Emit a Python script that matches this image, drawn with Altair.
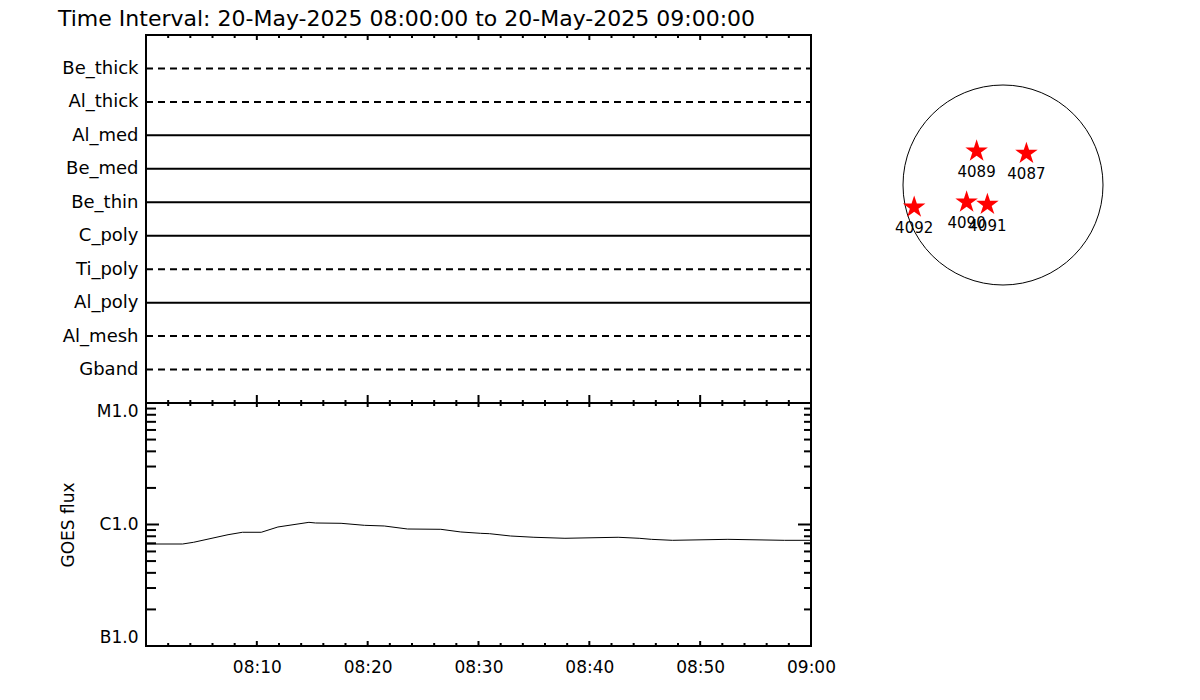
import math
import altair as alt
import pandas as pd

# ---------------- data ----------------
interval_start = "20-May-2025 08:00:00"
interval_end = "20-May-2025 09:00:00"

filters = ["Be_thick", "Al_thick", "Al_med", "Be_med", "Be_thin",
           "C_poly", "Ti_poly", "Al_poly", "Al_mesh", "Gband"]
observed = ["no", "no", "yes", "yes", "yes", "yes", "no", "yes", "no", "no"]

goes_time = ["08:00:00", "08:03:18", "08:04:18", "08:07:24", "08:08:42", "08:10:24",
             "08:11:54", "08:14:42", "08:15:18", "08:17:36", "08:19:42", "08:21:30",
             "08:23:36", "08:26:36", "08:28:24", "08:30:12", "08:31:00", "08:32:54",
             "08:35:00", "08:37:48", "08:42:36", "08:44:30", "08:45:36", "08:47:30",
             "08:52:30", "08:57:36", "09:00:00"]
goes_flux = [6.91e-7, 6.91e-7, 7.14e-7, 8.24e-7, 8.63e-7, 8.63e-7,
             9.54e-7, 1.042e-6, 1.029e-6, 1.023e-6, 9.85e-7, 9.72e-7,
             9.18e-7, 9.13e-7, 8.68e-7, 8.46e-7, 8.40e-7, 8.04e-7,
             7.85e-7, 7.70e-7, 7.85e-7, 7.70e-7, 7.55e-7, 7.41e-7,
             7.55e-7, 7.41e-7, 7.41e-7]

ar_numbers = ["4089", "4087", "4092", "4090", "4091"]
ar_x_arcsec = [-250, 222, -842, -345, -148]
ar_y_arcsec = [321, 299, -211, -163, -185]
sun_radius_arcsec = 948

flux_tick_values = [1e-7, 1e-6, 1e-5]
flux_tick_labels = ["B1.0", "C1.0", "M1.0"]
flux_minor_values = [m * 10.0 ** e for e in (-7, -6) for m in range(2, 10)]

major_minutes = [10, 20, 30, 40, 50]
minor_minutes = [m for m in range(2, 60, 2) if m % 10 != 0]
label_minutes = [10, 20, 30, 40, 50, 60]

# ---------------- tables ----------------
t0 = pd.to_datetime(interval_start, format="%d-%b-%Y %H:%M:%S")
t1 = pd.to_datetime(interval_end, format="%d-%b-%Y %H:%M:%S")
span_min = (t1 - t0).total_seconds() / 60.0
day = t0.strftime("%Y-%m-%d")
goes_df = pd.DataFrame({
    "minute": [(pd.Timestamp(f"{day} {t}") - t0).total_seconds() / 60.0 for t in goes_time],
    "flux": goes_flux,
})
filt_df = pd.DataFrame({"filter": filters, "observed": observed,
                        "start": 0.0, "end": span_min})
ar_df = pd.DataFrame({"ar": ar_numbers, "x": ar_x_arcsec, "y": ar_y_arcsec})
disk_df = pd.DataFrame({"x": [0], "y": [0]})

# ---------------- geometry / styles ----------------
W = 665
H_TOP = 368
H_BOT = 243
SUN_W = 300
SUN_RPX = 100
FONT = "DejaVu Sans"

xs = alt.Scale(domain=[0, span_min], nice=False, zero=False)
ys_flux = alt.Scale(type="log", domain=[1e-7, 1e-5], nice=False)
ys_filt = alt.Scale(type="point", domain=filters, padding=1)
half = SUN_W / 2
sun_xs = alt.Scale(domain=[-sun_radius_arcsec, sun_radius_arcsec],
                   range=[half - SUN_RPX, half + SUN_RPX], nice=False, zero=False)
sun_ys = alt.Scale(domain=[-sun_radius_arcsec, sun_radius_arcsec],
                   range=[half + SUN_RPX, half - SUN_RPX], nice=False, zero=False)

# five-pointed star symbol (unit box)
pts = []
for k in range(10):
    r = 1.0 if k % 2 == 0 else 0.382
    a = math.radians(-90 + 36 * k)
    pts.append(f"{r * math.cos(a):.4f},{r * math.sin(a):.4f}")
STAR_PATH = "M" + " L".join(pts) + " Z"

flux_expr = " : ".join(
    f"datum.value < {v * 3:g} ? '{l}'" for v, l in zip(flux_tick_values[:-1], flux_tick_labels[:-1])
) + f" : '{flux_tick_labels[-1]}'"
time_label_expr = "timeFormat(datetime(2025, 4, 20, 8, datum.value), '%H:%M')"

X_AXIS_BOT = alt.Axis(orient="bottom", ticks=False, domain=False, values=label_minutes,
                      labelExpr=time_label_expr, labelPadding=13, labelFlush=False,
                      title=None, grid=False)
Y_AXIS_BOT = alt.Axis(orient="left", ticks=False, domain=False, values=flux_tick_values,
                      labelExpr=flux_expr, labelPadding=8, labelFlush=True,
                      title="GOES flux", titleX=-78, titleY=H_BOT / 2, titleAlign="center",
                      titleBaseline="middle", titleAngle=-90, grid=False)


def xticks(values, y0, y1, axis=None):
    return alt.Chart(pd.DataFrame({"minute": values})).mark_rule(
        color="black", strokeWidth=2).encode(
        x=alt.X("minute:Q", scale=xs, axis=axis),
        y=alt.value(y0), y2=alt.value(y1))


def yticks(values, x0, x1, axis=None):
    return alt.Chart(pd.DataFrame({"flux": values})).mark_rule(
        color="black", strokeWidth=2).encode(
        y=alt.Y("flux:Q", scale=ys_flux, axis=axis),
        x=alt.value(x0), x2=alt.value(x1))


# ---------------- top panel: filter timeline ----------------
rules = alt.Chart(filt_df).mark_rule(strokeWidth=2, color="black").encode(
    x=alt.X("start:Q", scale=xs, axis=None),
    x2="end:Q",
    y=alt.Y("filter:N", scale=ys_filt,
            axis=alt.Axis(orient="left", ticks=False, domain=False, labelPadding=8,
                          labelFontSize=18, title=None, grid=False)),
    strokeDash=alt.StrokeDash("observed:N",
                              scale=alt.Scale(domain=["yes", "no"], range=[[1, 0], [7, 5]]),
                              legend=None),
)
top = alt.layer(
    rules,
    xticks(major_minutes, 0, 5), xticks(minor_minutes, 0, 3),
    xticks(major_minutes, H_TOP - 8, H_TOP), xticks(minor_minutes, H_TOP - 3, H_TOP),
).properties(width=W, height=H_TOP)

# ---------------- bottom panel: GOES flux ----------------
goes_line = alt.Chart(goes_df).mark_line(color="black", strokeWidth=1).encode(
    x=alt.X("minute:Q", scale=xs, axis=X_AXIS_BOT),
    y=alt.Y("flux:Q", scale=ys_flux, axis=Y_AXIS_BOT),
)
bottom = alt.layer(
    goes_line,
    xticks(major_minutes, 0, 4, X_AXIS_BOT), xticks(minor_minutes, 0, 3, X_AXIS_BOT),
    xticks(major_minutes, H_BOT - 5, H_BOT, X_AXIS_BOT),
    xticks(minor_minutes, H_BOT - 3, H_BOT, X_AXIS_BOT),
    yticks(flux_tick_values, 0, 13, Y_AXIS_BOT), yticks(flux_minor_values, 0, 10, Y_AXIS_BOT),
    yticks(flux_tick_values, W - 13, W, Y_AXIS_BOT),
    yticks(flux_minor_values, W - 7, W, Y_AXIS_BOT),
).properties(width=W, height=H_BOT)

# ---------------- solar disk with active regions ----------------
disk = alt.Chart(disk_df).mark_point(shape="circle", size=(2 * SUN_RPX) ** 2, filled=False,
                                     color="black", strokeWidth=1, opacity=1).encode(
    x=alt.X("x:Q", scale=sun_xs, axis=None),
    y=alt.Y("y:Q", scale=sun_ys, axis=None),
)
stars = alt.Chart(ar_df).mark_point(shape=STAR_PATH, size=560, filled=True,
                                    color="#ff0000", opacity=1).encode(
    x=alt.X("x:Q", scale=sun_xs, axis=None),
    y=alt.Y("y:Q", scale=sun_ys, axis=None),
)
ar_labels = alt.Chart(ar_df).mark_text(dy=21, fontSize=15, font=FONT,
                                       color="black").encode(
    x=alt.X("x:Q", scale=sun_xs, axis=None),
    y=alt.Y("y:Q", scale=sun_ys, axis=None),
    text="ar:N",
)
sun = alt.layer(disk, stars, ar_labels).properties(
    width=SUN_W, height=SUN_W, view=alt.ViewConfig(stroke=None))

title_text = f"Time Interval: {interval_start} to {interval_end}"

chart = alt.concat(top, sun, bottom, columns=2, spacing={"row": 0, "column": 42},
                   bounds="flush").properties(
    padding={"left": 49, "top": 0, "right": 5, "bottom": 5},
    title=alt.TitleParams(text=title_text, anchor="start", frame="group", dx=-88,
                          offset=-15, baseline="alphabetic", fontSize=22,
                          font=FONT, fontWeight="normal", color="black"),
).configure_view(
    stroke="black", strokeWidth=2
).configure_axis(
    labelFont=FONT, labelFontSize=17, labelColor="black",
    titleFont=FONT, titleFontSize=17, titleFontWeight="normal",
    titleColor="black", grid=False,
)

chart.save("out.html", embed_options={"renderer": "svg", "actions": False})
